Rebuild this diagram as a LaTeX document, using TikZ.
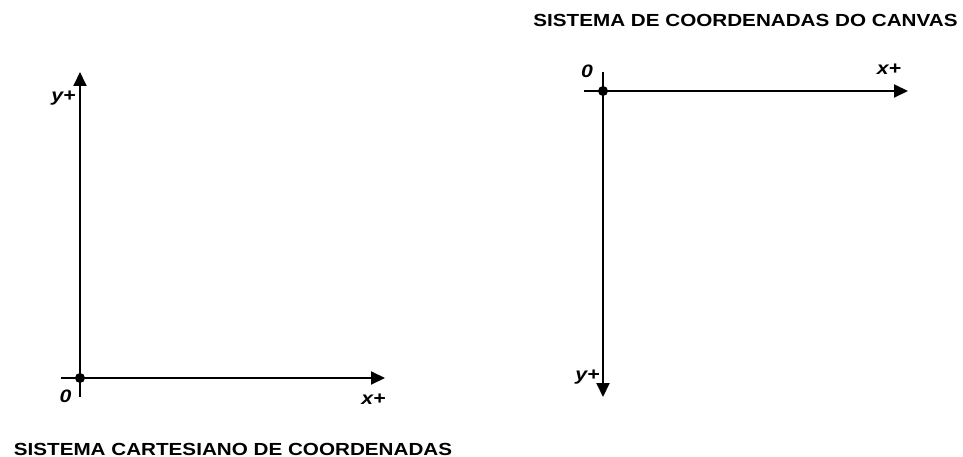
\documentclass[tikz,border=0pt]{standalone}
\usepackage{fontspec}
\setmainfont{Liberation Sans}
\newfontfamily\axisfont[FakeStretch=1.18]{Liberation Sans}
\usetikzlibrary{arrows.meta}
\tikzset{axis/.style={line width=1.9pt,-{Triangle[length=14pt,width=13pt]}},
  origin/.style={fill=black},
  title/.style={inner sep=0pt,font=\axisfont\bfseries\fontsize{17.5}{20}\selectfont},
  lbl/.style={inner sep=0pt,font=\axisfont\bfseries\itshape\fontsize{18}{20}\selectfont}}

\begin{document}
\begin{tikzpicture}[x=1pt,y=-1pt]
  \useasboundingbox (0,0) rectangle (963,457);
  % cartesiano
  \coordinate (o1) at (80,378);
  \coordinate (x1s) at (61,378);
  \coordinate (x1e) at (385,378);
  \coordinate (y1s) at (80,397);
  \coordinate (y1e) at (80,72);
  \draw[axis] (x1s) -- (x1e);
  \draw[axis] (y1s) -- (y1e);
  \path[origin] (o1) circle [radius=5];
  \node[lbl] (y1) at (63.5,98) {y+};
  \node[lbl] (x1) at (373.5,399) {x+};
  \node[lbl] (z1) at (65.5,396) {0};
  \node[title] (t1) at (233,449) {SISTEMA CARTESIANO DE COORDENADAS};
  % canvas
  \coordinate (o2) at (603,91);
  \coordinate (x2s) at (584,91);
  \coordinate (x2e) at (908,91);
  \coordinate (y2s) at (603,72);
  \coordinate (y2e) at (603,397);
  \draw[axis] (x2s) -- (x2e);
  \draw[axis] (y2s) -- (y2e);
  \path[origin] (o2) circle [radius=5];
  \node[lbl] (x2) at (889,69) {x+};
  \node[lbl] (y2) at (587.5,377) {y+};
  \node[lbl] (z2) at (587,71) {0};
  \node[title] (t2) at (745.5,20) {SISTEMA DE COORDENADAS DO CANVAS};
\end{tikzpicture}
\end{document}
